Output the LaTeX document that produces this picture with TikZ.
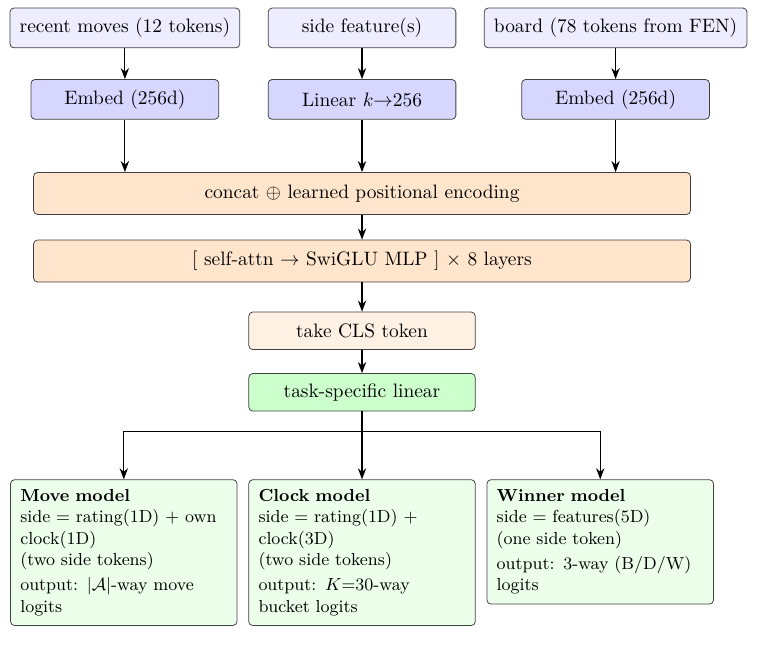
\documentclass[tikz,border=0pt]{standalone}
\usepackage{amsmath}
\usepackage{amssymb}
\usepackage{xcolor}
\usepackage{tikz}
\usetikzlibrary{
arrows.meta,
positioning
}

\begin{document}
\begin{tikzpicture}[
node distance=0.5cm,
box/.style={
draw=black!75,
rounded corners=2pt,
minimum height=0.72cm,
inner sep=5pt,
align=center
},
inbox/.style={box,fill=blue!7,minimum width=3.4cm},
embbox/.style={box,fill=blue!16,minimum width=3.4cm},
mixbox/.style={box,fill=orange!20,minimum width=11.9cm,minimum height=0.76cm},
clsbox/.style={box,fill=orange!10,minimum width=4.1cm,minimum height=0.68cm},
headbox/.style={box,fill=green!20,minimum width=4.1cm,minimum height=0.68cm},
modelbox/.style={box,fill=green!8,text width=3.75cm,align=left,font=\small},
arrow/.style={-{Stealth},semithick}
]

\useasboundingbox (-186.6pt,14.4pt) rectangle (204.1pt,-325.8pt);

\node[inbox] (side) {side feature(s)};
\node[inbox,left=of side] (recent) {recent moves (12 tokens)};
\node[inbox,right=of side] (board) {board (78 tokens from FEN)};

\node[embbox,below=0.56cm of recent] (embmoves) {Embed (256d)};
\node[embbox,below=0.56cm of side] (lin) {Linear $k{\rightarrow}256$};
\node[embbox,below=0.56cm of board] (embboard) {Embed (256d)};

\node[mixbox,below=0.95cm of lin] (concat) {concat $\oplus$ learned positional encoding};
\node[mixbox,below=0.45cm of concat] (layers) {[ self-attn $\rightarrow$ SwiGLU MLP ] $\times$ 8 layers};
\node[clsbox,below=0.53cm of layers] (cls) {take CLS token};
\node[headbox,below=0.42cm of cls] (task) {task-specific linear};

\node[modelbox,below=1.23cm of task] (clock) {\textbf{Clock model}\\
side = rating(1D) + clock(3D)\\
(two side tokens)\\[2pt]
output: $K{=}30$-way bucket logits};
\node[modelbox,left=0.2cm of clock.north west,anchor=north east] (move) {\textbf{Move model}\\
side = rating(1D) + own clock(1D)\\
(two side tokens)\\[2pt]
output: $|\mathcal{A}|$-way move logits};
\node[modelbox,right=0.2cm of clock.north east,anchor=north west] (winner) {\textbf{Winner model}\\
side = features(5D)\\
(one side token)\\[2pt]
output: 3-way (B/D/W) logits};

\coordinate[below=0.37cm of task] (split);

\draw[arrow] (recent) -- (embmoves);
\draw[arrow] (side) -- (lin);
\draw[arrow] (board) -- (embboard);

\draw[arrow] (embmoves) -- (embmoves |- concat.north);
\draw[arrow] (lin) -- (concat);
\draw[arrow] (embboard) -- (embboard |- concat.north);

\draw[arrow] (concat) -- (layers);
\draw[arrow] (layers) -- (cls);
\draw[arrow] (cls) -- (task);

\draw[semithick] (task) -- (split);
\draw[arrow] (split) -| (move.north);
\draw[arrow] (split) -- (clock);
\draw[arrow] (split) -| (winner.north);

\end{tikzpicture}
\end{document}
